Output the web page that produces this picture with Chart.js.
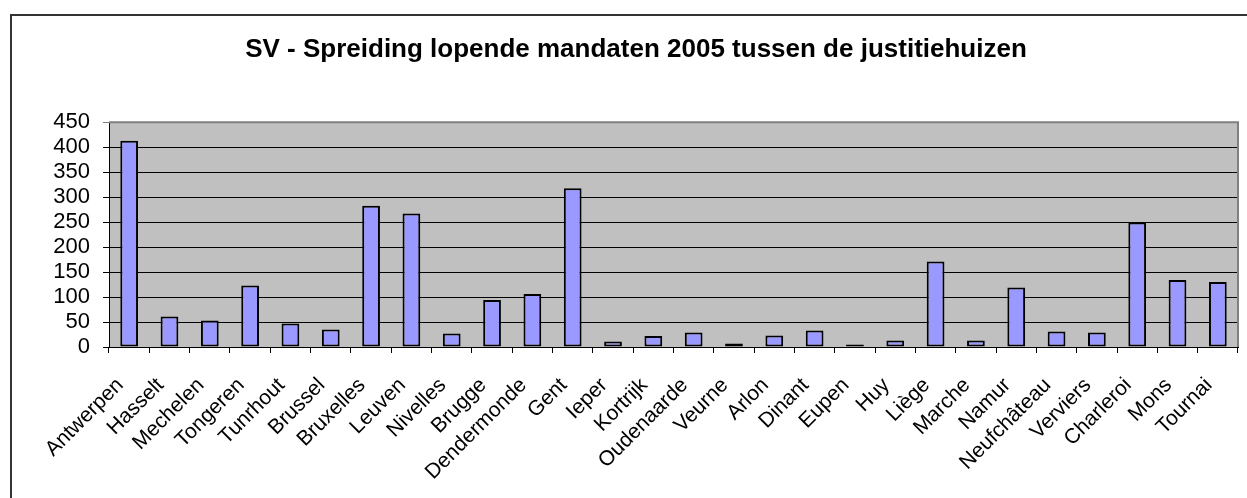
<!DOCTYPE html>
<html>
<head>
<meta charset="utf-8">
<script src="https://cdn.jsdelivr.net/npm/chart.js@4/dist/chart.umd.min.js"></script>
<style>
  html, body { margin: 0; padding: 0; background: #ffffff; }
  #wrap { width: 1247px; height: 498px; position: relative; }
</style>
</head>
<body>
<div id="wrap"><canvas id="mandatenChart"></canvas></div>
<script>
// Justitiehuizen (categories)
const huizen = ['Antwerpen', 'Hasselt', 'Mechelen', 'Tongeren', 'Tunrhout', 'Brussel', 'Bruxelles',
    'Leuven', 'Nivelles', 'Brugge', 'Dendermonde', 'Gent', 'Ieper', 'Kortrijk', 'Oudenaarde',
    'Veurne', 'Arlon', 'Dinant', 'Eupen', 'Huy', 'Liège', 'Marche', 'Namur', 'Neufchâteau',
    'Verviers', 'Charleroi', 'Mons', 'Tournai'];

// Lopende mandaten 2005
const mandaten = [413, 61, 53, 123, 47, 35, 283, 267, 27, 94, 106, 318, 11, 22, 29,
    7, 23, 33, 5, 13, 171, 13, 119, 31, 29, 249, 134, 130];

const yMin = 0;
const yMax = 450;
const yStep = 50;

const chartTitle = 'SV - Spreiding lopende mandaten 2005 tussen de justitiehuizen';

// Grey plot background + outer frame like the Excel original
const excelLook = {
    id: 'excelLook',
    beforeDraw(chart) {
        const { ctx, chartArea } = chart;
        ctx.save();
        ctx.fillStyle = '#ffffff';
        ctx.fillRect(0, 0, chart.width, chart.height);
        ctx.fillStyle = '#c0c0c0';
        ctx.fillRect(chartArea.left, chartArea.top, chartArea.right - chartArea.left, chartArea.bottom - chartArea.top);
        // frame
        ctx.strokeStyle = '#333333';
        ctx.lineWidth = 2;
        ctx.strokeRect(11, 15, chart.width + 20, chart.height + 20);
        ctx.restore();
    },
    afterDatasetsDraw(chart) {
        const { ctx, chartArea } = chart;
        ctx.save();
        ctx.strokeStyle = '#808080';
        ctx.lineWidth = 2;
        ctx.beginPath();
        ctx.moveTo(chartArea.left, chartArea.top);
        ctx.lineTo(chartArea.right, chartArea.top);
        ctx.lineTo(chartArea.right, chartArea.bottom);
        ctx.stroke();
        ctx.restore();
    }
};

const ctx = document.getElementById('mandatenChart');
new Chart(ctx, {
    type: 'bar',
    data: {
        labels: huizen,
        datasets: [{
            label: 'Lopende mandaten',
            data: mandaten,
            backgroundColor: '#9999ff',
            borderColor: '#000000',
            borderWidth: 2,
            borderSkipped: false,
            barPercentage: 0.44,
            categoryPercentage: 1.0
        }]
    },
    options: {
        responsive: true,
        maintainAspectRatio: false,
        animation: false,
        layout: {
            padding: { left: 34, right: 9, top: 0, bottom: 0 }
        },
        scales: {
            x: {
                afterFit: (scale) => {
                    scale.height = 151;
                    // labels push down, not sideways
                    scale.paddingLeft = 0;
                    scale.paddingRight = 0;
                },
                grid: {
                    drawOnChartArea: false,
                    drawTicks: true,
                    tickLength: 6,
                    color: '#000000',
                    offset: true
                },
                border: { display: true, color: '#000000', width: 1 },
                ticks: {
                    autoSkip: false,
                    maxRotation: 45,
                    minRotation: 45,
                    padding: 20,
                    labelOffset: -9,
                    color: '#000000',
                    font: { family: '"Liberation Sans", Arial, sans-serif', size: 21 }
                }
            },
            y: {
                min: yMin,
                max: yMax,
                afterFit: (scale) => { scale.width = 75; },
                grid: {
                    color: (c) => (c.tick && c.tick.value === yMax ? '#808080' : '#000000'),
                    tickLength: 6,
                    lineWidth: 1
                },
                border: { display: true, color: '#000000', width: 1 },
                ticks: {
                    stepSize: yStep,
                    autoSkip: false,
                    padding: 13,
                    color: '#000000',
                    font: { family: '"Liberation Sans", Arial, sans-serif', size: 22 }
                }
            }
        },
        plugins: {
            legend: { display: false },
            tooltip: { enabled: false },
            title: {
                display: true,
                text: chartTitle,
                color: '#000000',
                font: { family: '"Liberation Sans", Arial, sans-serif', size: 26, weight: 'bold' },
                padding: { top: 34, bottom: 57 }
            }
        }
    },
    plugins: [excelLook]
});
</script>
</body>
</html>
